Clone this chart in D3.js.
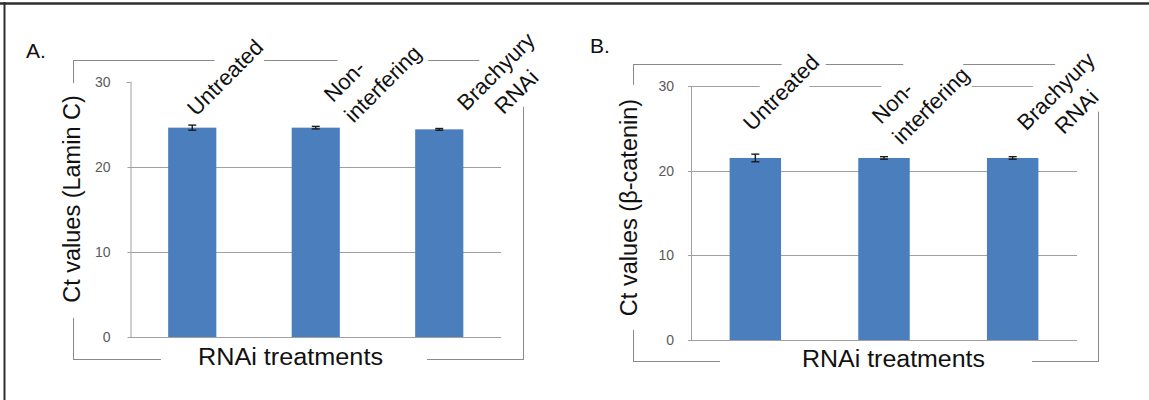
<!DOCTYPE html>
<html>
<head>
<meta charset="utf-8">
<script src="https://cdn.jsdelivr.net/npm/d3@7"></script>
<style>
  body { margin: 0; background: #fff; }
  svg { display: block; }
  text { font-family: "Liberation Sans", Arial, sans-serif; }
</style>
</head>
<body>
<svg id="fig" width="1149" height="400"></svg>
<script>
// ---- data ----
const categories = ["Untreated", "Non-interfering", "Brachyury RNAi"];
const categoryLines = [["Untreated"], ["Non-", "interfering"], ["Brachyury", "RNAi"]];
const laminC = [24.6, 24.6, 24.4];
const laminCErr = [0.3, 0.15, 0.1];
const betaCatenin = [21.5, 21.5, 21.5];
const betaCateninErr = [0.45, 0.15, 0.15];
const yTicks = [0, 10, 20, 30];
const panelTags = ["A.", "B."];
const yTitles = ["Ct values (Lamin C)", "Ct values (\u03b2-catenin)"];
const xTitle = "RNAi treatments";

// ---- layout ----
const barColor = "#4a7ebc";
const frameColor = "#8a8a8a";
const gridColor = "#a0a0a0";
const lineAlign = ["middle", "start", "middle"];
const lineHeight = 29;

const panels = [
  {
    tag: panelTags[0], tagAt: [26, 58],
    values: laminC, errs: laminCErr, yTitle: yTitles[0],
    frame: { x0: 73.5, y0: 60.5, x1: 523.5, y1: 359.5 },
    plot: { x0: 130.5, x1: 501, top: 81.7, bottom: 337 },
    padInner: 0.61, topGrid: false, tickGap: 20,
    yTitleAt: [72, 199], yTitlePad: [15, 12],
    xTitleAt: [290.5, 365], xTitleLen: 185, xTitlePad: [37, 44],
    labelShift: [[4, 35.3], [17.2, 21.6], [27, 30]]
  },
  {
    tag: panelTags[1], tagAt: [590, 53],
    values: betaCatenin, errs: betaCateninErr, yTitle: yTitles[1],
    frame: { x0: 633.5, y0: 64.5, x1: 1098.5, y1: 361.5 },
    plot: { x0: 691, x1: 1077, top: 86, bottom: 340 },
    padInner: 0.6, topGrid: true, tickGap: 17,
    yTitleAt: [629, 207.5], yTitlePad: [14, 14],
    xTitleAt: [893.5, 367], xTitleLen: 183, xTitlePad: [82, 47],
    labelShift: [[-3, 46], [-3, 39], [13.6, 45.5]]
  }
];

const svg = d3.select("#fig");

// outer figure border (top and left edges)
svg.append("line").attr("x1", 0).attr("x2", 1149).attr("y1", 3.5).attr("y2", 3.5)
  .attr("stroke", "#2e2e2e").attr("stroke-width", 2.5);
svg.append("line").attr("x1", 4.5).attr("x2", 4.5).attr("y1", 2).attr("y2", 400)
  .attr("stroke", "#2e2e2e").attr("stroke-width", 2);

panels.forEach(p => {
  const root = svg.append("g");
  const gFrame = root.append("g");
  const gGrid = root.append("g");
  const gBoxes = root.append("g");
  const gBars = root.append("g");
  const gText = root.append("g");

  const x = d3.scaleBand().domain(categories).range([p.plot.x0, p.plot.x1])
    .paddingInner(p.padInner).paddingOuter(p.padInner / 2);
  const y = d3.scaleLinear().domain([0, 30]).range([p.plot.bottom, p.plot.top]);
  const mid = i => x(categories[i]) + x.bandwidth() / 2;

  // chart-area frame
  const f = p.frame;
  gFrame.append("rect").attr("x", f.x0).attr("y", f.y0)
    .attr("width", f.x1 - f.x0).attr("height", f.y1 - f.y0)
    .attr("fill", "none").attr("stroke", frameColor).attr("stroke-width", 1);

  // gridlines
  const gridVals = p.topGrid ? yTicks : yTicks.filter(t => t < 30);
  gGrid.selectAll("line.grid").data(gridVals).join("line")
    .attr("class", "grid")
    .attr("x1", p.plot.x0 - 3).attr("x2", p.plot.x1)
    .attr("y1", d => Math.round(y(d)) + 0.5).attr("y2", d => Math.round(y(d)) + 0.5)
    .attr("stroke", gridColor).attr("stroke-width", 1);
  if (!p.topGrid) {
    gGrid.append("line")
      .attr("x1", p.plot.x0 - 4).attr("x2", p.plot.x0)
      .attr("y1", Math.round(y(30)) + 0.5).attr("y2", Math.round(y(30)) + 0.5)
      .attr("stroke", gridColor);
  }
  // value axis line
  gGrid.append("line")
    .attr("x1", p.plot.x0 + 0.5).attr("x2", p.plot.x0 + 0.5)
    .attr("y1", y(30)).attr("y2", y(0))
    .attr("stroke", gridColor);

  // tick labels through a d3 axis
  const axis = d3.axisLeft(y).tickValues(yTicks).tickSize(0).tickPadding(p.tickGap);
  const ag = gText.append("g").attr("transform", `translate(${p.plot.x0},0)`).call(axis);
  ag.select(".domain").remove();
  ag.selectAll("text").attr("font-size", 14).attr("fill", "#5a5a5a")
    .attr("font-family", "\"Liberation Sans\", Arial, sans-serif");

  // category labels (rotated text boxes with white fill)
  categoryLines.forEach((lines, i) => {
    const [dx, dy] = p.labelShift[i];
    const tr = `translate(${mid(i) + dx},${p.plot.top + dy}) rotate(-45)`;
    const box = gBoxes.append("rect").attr("transform", tr).attr("fill", "#fff");
    const tg = gText.append("g").attr("transform", tr);
    const texts = lines.map((s, j) => tg.append("text")
      .attr("y", j * lineHeight).attr("font-size", 22).attr("fill", "#111").text(s));
    const widths = texts.map(t => t.node().getComputedTextLength());
    const maxW = d3.max(widths);
    if (lineAlign[i] === "middle") {
      texts.forEach((t, j) => t.attr("x", (maxW - widths[j]) / 2));
    }
    box.attr("x", -5).attr("y", -27)
      .attr("width", maxW + 8)
      .attr("height", (lines.length - 1) * lineHeight + 27 + 8);
  });

  // value axis title
  const yt = gText.append("text")
    .attr("transform", `translate(${p.yTitleAt[0]},${p.yTitleAt[1]}) rotate(-90)`)
    .attr("text-anchor", "middle").attr("dy", "0.35em")
    .attr("font-size", 23.5).attr("fill", "#111").text(p.yTitle);
  const ytLen = yt.node().getComputedTextLength();
  gBoxes.append("rect")
    .attr("x", p.yTitleAt[0] - 10).attr("y", p.yTitleAt[1] - ytLen / 2 - p.yTitlePad[1])
    .attr("width", 20).attr("height", ytLen + p.yTitlePad[0] + p.yTitlePad[1])
    .attr("fill", "#fff");

  // category axis title
  gText.append("text")
    .attr("x", p.xTitleAt[0]).attr("y", p.xTitleAt[1])
    .attr("text-anchor", "middle").attr("font-size", 23)
    .attr("textLength", p.xTitleLen).attr("lengthAdjust", "spacingAndGlyphs")
    .attr("fill", "#111").text(xTitle);
  gBoxes.append("rect")
    .attr("x", p.xTitleAt[0] - p.xTitleLen / 2 - p.xTitlePad[0])
    .attr("y", p.xTitleAt[1] - 20)
    .attr("width", p.xTitleLen + p.xTitlePad[0] + p.xTitlePad[1])
    .attr("height", 26).attr("fill", "#fff");

  // panel tag
  gText.append("text").attr("x", p.tagAt[0]).attr("y", p.tagAt[1])
    .attr("font-size", 21).attr("fill", "#111").text(p.tag);

  // bars
  gBars.selectAll("rect.bar").data(p.values).join("rect")
    .attr("class", "bar")
    .attr("x", (d, i) => x(categories[i]))
    .attr("width", x.bandwidth())
    .attr("y", d => y(d))
    .attr("height", d => y(0) - y(d))
    .attr("fill", barColor);

  // error bars
  const eg = gBars.selectAll("g.err").data(p.values).join("g").attr("class", "err")
    .attr("stroke", "#1c1c1c").attr("stroke-width", 1.4);
  eg.append("line")
    .attr("x1", (d, i) => mid(i)).attr("x2", (d, i) => mid(i))
    .attr("y1", (d, i) => y(d - p.errs[i]))
    .attr("y2", (d, i) => y(d + p.errs[i]));
  [-1, 1].forEach(s => {
    eg.append("line")
      .attr("x1", (d, i) => mid(i) - 4).attr("x2", (d, i) => mid(i) + 4)
      .attr("y1", (d, i) => y(d + s * p.errs[i]))
      .attr("y2", (d, i) => y(d + s * p.errs[i]));
  });
});
</script>
</body>
</html>
